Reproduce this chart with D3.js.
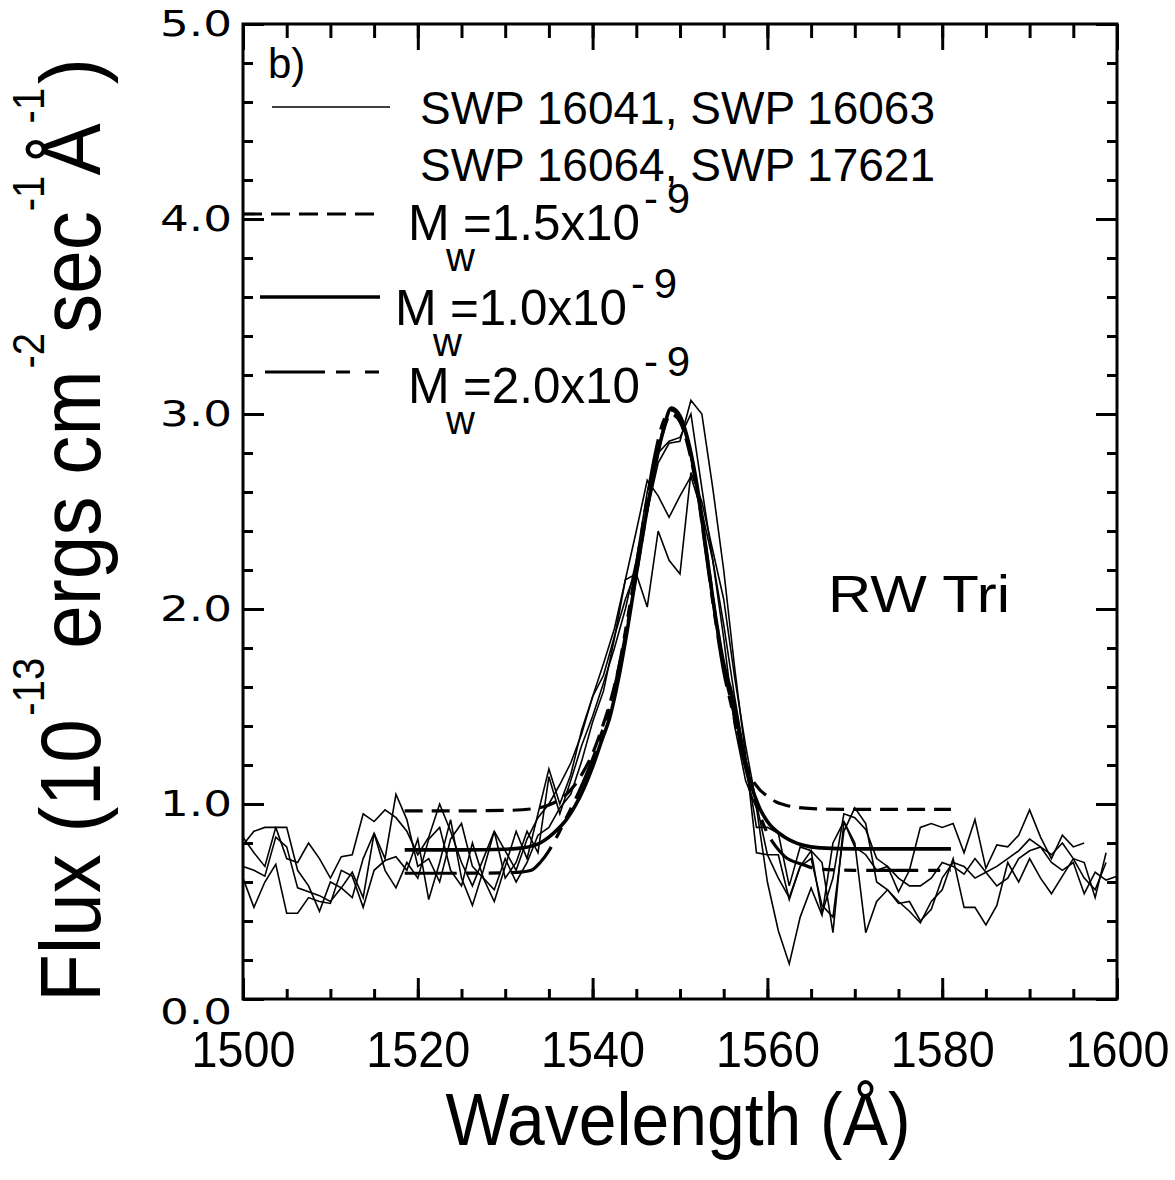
<!DOCTYPE html>
<html><head><meta charset="utf-8">
<script src="https://cdn.jsdelivr.net/npm/d3@7"></script>
<style>body{margin:0;background:#fff}svg{display:block}</style>
</head><body>
<svg id="chart" width="1175" height="1180"></svg>
<script>
// ---------- data ----------
const wavelengths = [
 1500,1501.25,1502.5,1503.75,1505,1506.25,1507.5,1508.75,1510,1511.25,1512.5,1513.75,
 1515,1516.25,1517.5,1518.75,1520,1521.25,1522.5,1523.75,1525,1526.25,1527.5,1528.75,
 1530,1531.25,1532.5,1533.75,1535,1536.25,1537.5,1538.75,1540,1541.25,1542.5,1543.75,
 1545,1546.25,1547.5,1548.75,1550,1551.25,1552.5,1553.75,1555,1556.25,1557.5,1558.75,
 1560,1561.25,1562.5,1563.75,1565,1566.25,1567.5,1568.75,1570,1571.25,1572.5,1573.75,
 1575,1576.25,1577.5,1578.75,1580,1581.25,1582.5,1583.75,1585,1586.25,1587.5,1588.75,
 1590,1591.25,1592.5,1593.75,1595,1596.25,1597.5,1598.75,1600];

const swp16041 = [
 0.79,0.86,0.88,0.88, 0.72,0.70,0.80,0.72, 0.62,0.73,0.74,0.95, 0.91,0.97,0.93,0.86,
 0.74,0.83,1.00,0.86, 0.70,0.58,0.72,0.86, 0.76,0.66,0.82,0.93, 1.00,1.10,1.21,1.36,
 1.55,1.66,1.86,2.05, 2.20,2.50,2.75,2.85, 2.86,3.07,3.00,2.62, 2.20,1.70,1.25,0.75,
 0.74,0.62,0.52,0.68, 0.76,0.44,0.62,0.95, 0.93,0.87,0.72,0.68, 0.55,0.66,0.88,0.90,
 0.88,0.90,0.75,0.92, 0.67,0.79,0.78,0.84, 0.97,0.83,0.72,0.84, 0.78,0.80];
const swp16063 = [
 0.62,0.47,0.60,0.69, 0.44,0.44,0.52,0.50, 0.49,0.66,0.63,0.47, 0.66,0.71,0.73,0.66,
 0.82,0.51,0.70,0.92, 0.62,0.48,0.66,0.86, 0.62,0.70,0.86,0.75, 1.14,0.95,1.12,1.30,
 1.45,1.62,1.80,2.00, 2.25,2.60,2.80,2.86, 2.88,3.00,2.62,2.25, 1.85,1.40,1.12,0.98,
 0.60,0.35,0.18,0.42, 0.57,0.43,0.80,0.91, 0.80,0.34,0.50,0.56, 0.50,0.45,0.39,0.50,
 0.56,0.72,0.47,0.47, 0.38,0.48,0.70,0.60, 0.72,0.62,0.54,0.63, 0.72,0.70,0.52,0.75];
const swp16064 = [
 0.68,0.66,0.63,0.83, 0.78,0.57,0.55,0.53, 0.50,0.57,0.65,0.52, 0.85,0.66,0.57,0.70,
 0.62,0.82,0.88,0.66, 0.58,0.80,0.62,0.56, 0.72,0.60,0.70,0.84, 0.88,0.98,1.05,1.22,
 1.42,1.58,1.85,2.15, 2.40,2.66,2.58,2.47, 2.58,2.68,2.50,2.25, 1.92,1.55,1.22,0.88,
 0.88,0.85,0.58,0.78, 0.76,0.70,0.34,0.91, 0.78,0.74,0.66,0.68, 0.62,0.58,0.58,0.62,
 0.70,0.68,0.64,0.72, 0.65,0.58,0.62,0.72, 0.76,0.78,0.70,0.66, 0.70,0.54,0.65,0.61,
 0.63];
const swp17621 = [
 0.83,0.75,0.68,0.88, 0.88,0.66,0.58,0.45, 0.60,0.57,0.52,0.72, 0.85,0.72,1.05,0.92,
 0.68,0.72,0.60,0.82, 0.90,0.68,0.62,0.50, 0.68,0.86,0.72,0.95, 1.18,1.00,1.15,1.38,
 1.55,1.72,1.90,2.15, 2.18,2.01,2.40,2.25, 2.18,2.70,2.55,2.30, 2.05,1.65,1.30,1.00,
 0.74,0.74,0.51,0.68, 0.72,0.48,0.42,0.86, 0.98,0.90,0.60,0.56, 0.49,0.50,0.40,0.46,
 0.62,0.70,0.68,0.62, 0.65,0.68,0.72,0.76, 0.82,0.78,0.74,0.80, 0.72,0.62,0.56,0.70];

// wind models [wavelength, flux]
const modelMw15 = [[1518.5,0.965],[1525,0.965],[1530,0.967],[1533,0.975],[1535,0.995],[1537,1.05],
 [1538,1.1],[1539,1.17],[1540,1.26],[1541,1.38],[1542,1.52],[1543,1.7],[1544,1.92],[1545,2.18],
 [1546,2.45],[1547,2.7],[1548,2.9],[1549,3.0],[1550,2.96],[1551,2.82],[1552,2.6],[1553,2.3],
 [1554,1.98],[1555,1.7],[1556,1.5],[1557,1.3],[1558,1.15],[1559,1.08],[1560,1.04],[1561,1.01],
 [1562,0.995],[1564,0.98],[1566,0.975],[1570,0.972],[1581,0.972]];
const modelMw10 = [[1518.5,0.765],[1525,0.765],[1530,0.768],[1532,0.775],[1534,0.8],[1535,0.83],
 [1536,0.87],[1537,0.92],[1538,0.99],[1539,1.08],[1540,1.19],[1541,1.32],[1542,1.45],[1543,1.65],
 [1544,1.9],[1545,2.18],[1546,2.45],[1547,2.7],[1548,2.9],[1549,3.03],[1550,2.99],[1551,2.85],
 [1552,2.62],[1553,2.3],[1554,1.98],[1555,1.72],[1556,1.55],[1557,1.32],[1558,1.12],[1559,0.99],
 [1560,0.91],[1562,0.83],[1564,0.79],[1566,0.775],[1570,0.77],[1581,0.77]];
const modelMw20 = [[1518.5,0.645],[1525,0.645],[1530,0.647],[1532,0.652],[1533,0.66],[1534,0.7],
 [1535,0.76],[1536,0.84],[1537,0.93],[1538,1.02],[1539,1.12],[1540,1.23],[1541,1.36],[1542,1.5],
 [1543,1.7],[1544,1.95],[1545,2.22],[1546,2.5],[1547,2.76],[1548,2.95],[1549,3.02],[1550,2.98],
 [1551,2.84],[1552,2.6],[1553,2.28],[1554,1.96],[1555,1.68],[1556,1.48],[1557,1.28],[1558,1.1],
 [1559,0.96],[1560,0.85],[1561,0.78],[1562,0.73],[1564,0.69],[1566,0.665],[1570,0.66],[1581,0.66]];

const xTicks = [1500,1520,1540,1560,1580,1600];
const xTickLabels = ["1500","1520","1540","1560","1580","1600"];
const yTicks = [0,1,2,3,4,5];
const yTickLabels = ["0.0","1.0","2.0","3.0","4.0","5.0"];

// ---------- drawing ----------
const svg = d3.select("#chart");
const L = 243, R = 1117, T = 24, B = 999;
const x = d3.scaleLinear().domain([1500,1600]).range([L,R]);
const y = d3.scaleLinear().domain([0,5]).range([B,T]);
const SANS = "'Liberation Sans', Arial, Helvetica, sans-serif";

svg.append("rect").attr("width",1175).attr("height",1180).attr("fill","#fff");

// observed spectra
const obsLine = d3.line().x((d,i)=>x(wavelengths[i])).y(d=>y(d));
[swp16041, swp16063, swp16064, swp17621].forEach(s=>{
  svg.append("path").attr("d",obsLine(s)).attr("fill","none")
    .attr("stroke","#000").attr("stroke-width",1.6).attr("stroke-linejoin","miter");
});

// models
const modLine = d3.line().x(d=>x(d[0])).y(d=>y(d[1])).curve(d3.curveMonotoneX);
svg.append("path").attr("d",modLine(modelMw15)).attr("fill","none").attr("stroke","#000")
  .attr("stroke-width",3.2).attr("stroke-dasharray","18,9");
svg.append("path").attr("d",modLine(modelMw20)).attr("fill","none").attr("stroke","#000")
  .attr("stroke-width",3.2).attr("stroke-dasharray","52,10,12,10,12,10");
svg.append("path").attr("d",modLine(modelMw10)).attr("fill","none").attr("stroke","#000")
  .attr("stroke-width",3.6);

// frame
svg.append("rect").attr("x",L).attr("y",T).attr("width",R-L).attr("height",B-T)
  .attr("fill","none").attr("stroke","#000").attr("stroke-width",3);

function styleAxis(g){
  g.select(".domain").remove();
  g.selectAll(".tick line").attr("stroke","#000").attr("stroke-width",3);
}
const xMinor = d3.range(1500,1601,5);
const yMinor = d3.range(0,5.01,0.2);

svg.append("g").attr("transform",`translate(0,${B})`)
  .call(d3.axisBottom(x).tickValues(xMinor).tickSize(-10).tickFormat("")).call(styleAxis);
const gxb = svg.append("g").attr("transform",`translate(0,${B})`)
  .call(d3.axisBottom(x).tickValues(xTicks).tickSize(-21).tickPadding(32)
    .tickFormat((d,i)=>xTickLabels[i])).call(styleAxis);
gxb.selectAll("text").attr("font-family",SANS).attr("font-size",50).attr("fill","#000")
  .attr("textLength",104).attr("lengthAdjust","spacingAndGlyphs");

svg.append("g").attr("transform",`translate(0,${T})`)
  .call(d3.axisTop(x).tickValues(xMinor).tickSize(-14).tickFormat("")).call(styleAxis);
svg.append("g").attr("transform",`translate(0,${T})`)
  .call(d3.axisTop(x).tickValues(xTicks).tickSize(-26).tickFormat("")).call(styleAxis);

svg.append("g").attr("transform",`translate(${L},0)`)
  .call(d3.axisLeft(y).tickValues(yMinor).tickSize(-10).tickFormat("")).call(styleAxis);
const gyl = svg.append("g").attr("transform",`translate(${L},0)`)
  .call(d3.axisLeft(y).tickValues(yTicks).tickSize(-21).tickPadding(11)
    .tickFormat((d,i)=>yTickLabels[i])).call(styleAxis);
gyl.selectAll("text").attr("font-family","'DejaVu Sans', sans-serif").attr("font-size",35)
  .attr("fill","#000").attr("textLength",72).attr("lengthAdjust","spacingAndGlyphs");
gyl.selectAll(".tick").filter(d=>d===0).select("text").attr("transform","translate(0,13)");

svg.append("g").attr("transform",`translate(${R},0)`)
  .call(d3.axisRight(y).tickValues(yMinor).tickSize(-10).tickFormat("")).call(styleAxis);
svg.append("g").attr("transform",`translate(${R},0)`)
  .call(d3.axisRight(y).tickValues(yTicks).tickSize(-21).tickFormat("")).call(styleAxis);

// axis titles
svg.append("text").attr("x",678).attr("y",1145).attr("text-anchor","middle")
  .attr("font-family",SANS).attr("font-size",74).attr("textLength",465)
  .attr("lengthAdjust","spacingAndGlyphs").text("Wavelength (Å)");

const yl = svg.append("text").attr("transform","translate(100,1002) rotate(-90) scale(0.91,1)")
  .attr("font-family",SANS).attr("font-size",86);
yl.append("tspan").text("Flux (10");
yl.append("tspan").attr("font-size",44).attr("dy",-56).attr("dx",4).text("-13");
yl.append("tspan").attr("dy",56).attr("dx",10).text("ergs cm");
yl.append("tspan").attr("font-size",44).attr("dy",-56).attr("dx",2).text("-2");
yl.append("tspan").attr("dy",56).text("sec");
yl.append("tspan").attr("font-size",44).attr("dy",-56).text("-1");
yl.append("tspan").attr("dy",56).text("Å");
yl.append("tspan").attr("font-size",44).attr("dy",-56).text("-1");
yl.append("tspan").attr("dy",56).attr("dx",4).text(")");

// panel label
svg.append("text").attr("x",268).attr("y",78).attr("font-family",SANS).attr("font-size",42).text("b)");

// legend
svg.append("line").attr("x1",272).attr("x2",390).attr("y1",107).attr("y2",107)
  .attr("stroke","#000").attr("stroke-width",1.6);
svg.append("text").attr("x",420).attr("y",124).attr("font-family",SANS).attr("font-size",47)
  .attr("textLength",515).attr("lengthAdjust","spacingAndGlyphs").text("SWP 16041, SWP 16063");
svg.append("text").attr("x",420).attr("y",181).attr("font-family",SANS).attr("font-size",47)
  .attr("textLength",515).attr("lengthAdjust","spacingAndGlyphs").text("SWP 16064, SWP 17621");

const legendModels = [
  {y:214, x1:243, x2:383, w:3.2, dash:"19,9", tx:408, base:240, val:"=1.5x10"},
  {y:297, x1:260, x2:380, w:3.6, dash:null, tx:395, base:325, val:"=1.0x10"},
  {y:372, x1:265, x2:385, w:3.2, dash:"60,11,14,15,14,20", tx:408, base:403, val:"=2.0x10"}
];
legendModels.forEach(m=>{
  const ln = svg.append("line").attr("x1",m.x1).attr("x2",m.x2).attr("y1",m.y).attr("y2",m.y)
    .attr("stroke","#000").attr("stroke-width",m.w);
  if(m.dash) ln.attr("stroke-dasharray",m.dash);
  svg.append("text").attr("x",m.tx).attr("y",m.base).attr("font-family",SANS).attr("font-size",50).text("M");
  svg.append("text").attr("x",m.tx+38).attr("y",m.base+31).attr("font-family",SANS).attr("font-size",40).text("w");
  svg.append("text").attr("x",m.tx+55).attr("y",m.base).attr("font-family",SANS).attr("font-size",50)
    .attr("textLength",177).attr("lengthAdjust","spacingAndGlyphs").text(m.val);
  svg.append("text").attr("x",m.tx+236).attr("y",m.base-27).attr("font-family",SANS).attr("font-size",42)
    .attr("textLength",46).attr("lengthAdjust","spacing").text("-9");
});

svg.append("text").attr("x",828).attr("y",612).attr("font-family",SANS).attr("font-size",52)
  .attr("textLength",182).attr("lengthAdjust","spacingAndGlyphs").text("RW Tri");
</script>
</body></html>
